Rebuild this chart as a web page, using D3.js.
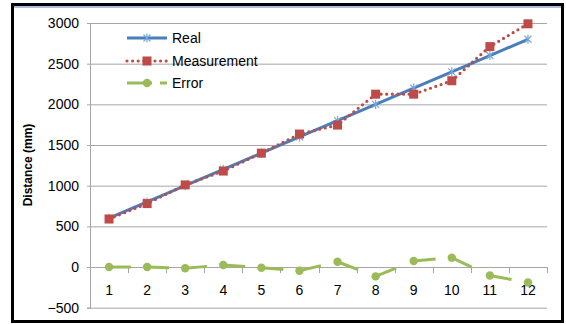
<!DOCTYPE html>
<html>
<head>
<meta charset="utf-8">
<script src="https://cdn.jsdelivr.net/npm/d3@7"></script>
<style>
  html, body { margin: 0; padding: 0; background: #fff; }
  svg { display: block; }
  text { font-family: "Liberation Sans", Arial, sans-serif; fill: #000; }
</style>
</head>
<body>
<svg id="chart" width="566" height="324"></svg>
<script>
// Trial points and their values (mm)
const categories = ["1","2","3","4","5","6","7","8","9","10","11","12"];
const realValues = [600, 800, 1000, 1200, 1400, 1600, 1800, 2000, 2200, 2400, 2600, 2800];
const measurementValues = [590, 780, 1010, 1180, 1400, 1635, 1745, 2125, 2125, 2290, 2710, 2990];
const errorValues = [0, 0, -15, 25, -8, -45, 65, -115, 75, 115, -105, -190];
const yTicks = [-500, 0, 500, 1000, 1500, 2000, 2500, 3000];
const seriesNames = ["Real", "Measurement", "Error"];

const colors = { real: "#4a7ebb", realMarker: "#7aa6dc", meas: "#be4b48", err: "#9bbb59", grid: "#a6a6a6" };

const svg = d3.select("#chart");

// frame
svg.append("rect").attr("x", 12.5).attr("y", 4.5).attr("width", 550).attr("height", 317)
  .attr("fill", "#fff").attr("stroke", "#000").attr("stroke-width", 3);
svg.append("line").attr("x1", 14).attr("x2", 561).attr("y1", 7).attr("y2", 7)
  .attr("stroke", "#4f81bd").attr("stroke-width", 1.2);

const x = d3.scaleBand().domain(categories).range([90, 547]).padding(0);
const y = d3.scaleLinear().domain([-500, 3000]).range([307.7, 23]);
const cx = d => x(d) + x.bandwidth() / 2;

// horizontal gridlines + y axis labels
const yAxis = d3.axisLeft(y).tickValues(yTicks).tickSize(3).tickPadding(8).tickFormat(d3.format("d"));
const gy = svg.append("g").attr("transform", "translate(90,0)").call(yAxis);
gy.select(".domain").attr("stroke", colors.grid);
gy.selectAll(".tick line").attr("stroke", colors.grid);
gy.selectAll(".tick text").attr("font-size", 14).attr("font-family", "Liberation Sans, Arial, sans-serif").attr("fill", "#000");
svg.append("g").selectAll("line").data(yTicks).join("line")
  .attr("x1", 90).attr("x2", 547).attr("y1", d => y(d) + 0.5).attr("y2", d => y(d) + 0.5)
  .attr("stroke", colors.grid).attr("stroke-width", 1);

// category axis on the zero line
const xAxis = d3.axisBottom(x).tickSize(0).tickPadding(18);
const gx = svg.append("g").attr("transform", `translate(0,${y(0) + 0.5})`).call(xAxis);
gx.select(".domain").remove();
gx.selectAll(".tick text").attr("font-size", 14).attr("font-family", "Liberation Sans, Arial, sans-serif").attr("fill", "#000");
const bounds = categories.map(c => x(c)).concat([x(categories[categories.length - 1]) + x.bandwidth()]);
svg.append("g").selectAll("line").data(bounds).join("line")
  .attr("x1", d => Math.round(d) + 0.5).attr("x2", d => Math.round(d) + 0.5)
  .attr("y1", y(0)).attr("y2", y(0) + 6).attr("stroke", colors.grid);

// y axis title
svg.append("text").attr("transform", `translate(32,165) rotate(-90)`)
  .attr("text-anchor", "middle").attr("font-size", 12).attr("font-weight", "bold")
  .text("Distance (mm)");

const starPath = s => `M${-s},${-s}L${s},${s}M${-s},${s}L${s},${-s}M0,${-s * 1.3}L0,${s * 1.3}`;

// Error series: each segment dashed from its start point
const errSeg = svg.append("g");
for (let i = 0; i < categories.length - 1; i++) {
  errSeg.append("line")
    .attr("x1", cx(categories[i])).attr("y1", y(errorValues[i]))
    .attr("x2", cx(categories[i + 1])).attr("y2", y(errorValues[i + 1]))
    .attr("stroke", colors.err).attr("stroke-width", 3).attr("stroke-dasharray", "22,40");
}
svg.append("g").selectAll("circle").data(errorValues).join("circle")
  .attr("cx", (d, i) => cx(categories[i])).attr("cy", d => y(d)).attr("r", 4.2)
  .attr("fill", colors.err);

// Real series
const line = d3.line().x((d, i) => cx(categories[i])).y(d => y(d));
svg.append("path").datum(realValues).attr("d", line)
  .attr("fill", "none").attr("stroke", colors.real).attr("stroke-width", 3);
svg.append("g").selectAll("path").data(realValues).join("path")
  .attr("transform", (d, i) => `translate(${cx(categories[i])},${y(d)})`)
  .attr("d", starPath(3.5)).attr("stroke", colors.realMarker).attr("stroke-width", 1.2).attr("fill", "none");

// Measurement series
svg.append("path").datum(measurementValues).attr("d", line)
  .attr("fill", "none").attr("stroke", colors.meas).attr("stroke-width", 3.2)
  .attr("stroke-linecap", "round").attr("stroke-dasharray", "0,5.6");
svg.append("g").selectAll("rect").data(measurementValues).join("rect")
  .attr("x", (d, i) => cx(categories[i]) - 4.5).attr("y", d => y(d) - 4.5)
  .attr("width", 9).attr("height", 9).attr("fill", colors.meas);

// legend
const legY = [38, 61, 83];
const leg = svg.append("g");
// Real
leg.append("line").attr("x1", 127).attr("x2", 167).attr("y1", legY[0]).attr("y2", legY[0])
  .attr("stroke", colors.real).attr("stroke-width", 3);
leg.append("path").attr("transform", `translate(147,${legY[0]})`).attr("d", starPath(3.5))
  .attr("stroke", colors.realMarker).attr("stroke-width", 1.2).attr("fill", "none");
// Measurement
leg.append("line").attr("x1", 127).attr("x2", 167).attr("y1", legY[1]).attr("y2", legY[1])
  .attr("stroke", colors.meas).attr("stroke-width", 3.2).attr("stroke-linecap", "round").attr("stroke-dasharray", "0,5.6");
leg.append("rect").attr("x", 142.5).attr("y", legY[1] - 4.5).attr("width", 9).attr("height", 9).attr("fill", colors.meas);
// Error
leg.append("line").attr("x1", 127).attr("x2", 167).attr("y1", legY[2]).attr("y2", legY[2])
  .attr("stroke", colors.err).attr("stroke-width", 3).attr("stroke-dasharray", "25,8");
leg.append("circle").attr("cx", 147).attr("cy", legY[2]).attr("r", 4.2).attr("fill", colors.err);
leg.selectAll("text").data(seriesNames).join("text")
  .attr("x", 172).attr("y", (d, i) => legY[i] + 5).attr("font-size", 14).text(d => d);
</script>
</body>
</html>
